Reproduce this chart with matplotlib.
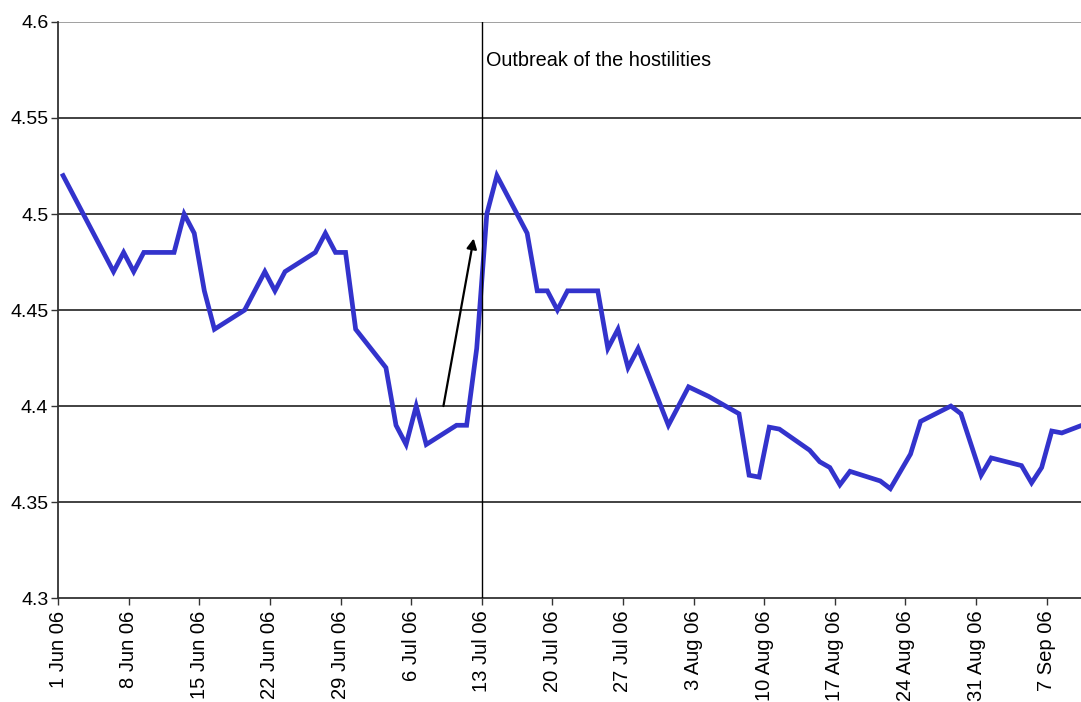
import matplotlib
matplotlib.use("Agg")
import matplotlib.pyplot as plt
import matplotlib.dates as mdates
import numpy as np
import datetime as dt

# trading days and yields
dates = ["2006-06-01", "2006-06-06", "2006-06-07", "2006-06-08", "2006-06-09",
         "2006-06-12", "2006-06-13", "2006-06-14", "2006-06-15", "2006-06-16",
         "2006-06-19", "2006-06-21", "2006-06-22", "2006-06-23", "2006-06-26",
         "2006-06-27", "2006-06-28", "2006-06-29", "2006-06-30", "2006-07-03",
         "2006-07-04", "2006-07-05", "2006-07-06", "2006-07-07", "2006-07-10",
         "2006-07-11", "2006-07-12", "2006-07-13", "2006-07-14", "2006-07-17",
         "2006-07-18", "2006-07-19", "2006-07-20", "2006-07-21", "2006-07-24",
         "2006-07-25", "2006-07-26", "2006-07-27", "2006-07-28", "2006-07-31",
         "2006-08-02", "2006-08-04", "2006-08-07", "2006-08-08", "2006-08-09",
         "2006-08-10", "2006-08-11", "2006-08-14", "2006-08-15", "2006-08-16",
         "2006-08-17", "2006-08-18", "2006-08-21", "2006-08-22", "2006-08-24",
         "2006-08-25", "2006-08-28", "2006-08-29", "2006-08-31", "2006-09-01",
         "2006-09-04", "2006-09-05", "2006-09-06", "2006-09-07", "2006-09-08",
         "2006-09-11"]
values = [4.52, 4.47, 4.48, 4.47, 4.48,
          4.48, 4.50, 4.49, 4.46, 4.44,
          4.45, 4.47, 4.46, 4.47, 4.48,
          4.49, 4.48, 4.48, 4.44, 4.42,
          4.39, 4.38, 4.40, 4.38, 4.39,
          4.39, 4.43, 4.50, 4.52, 4.49,
          4.46, 4.46, 4.45, 4.46, 4.46,
          4.43, 4.44, 4.42, 4.43, 4.39,
          4.41, 4.405, 4.396, 4.364, 4.363,
          4.389, 4.388, 4.377, 4.371, 4.368,
          4.359, 4.366, 4.361, 4.357, 4.375,
          4.392, 4.400, 4.396, 4.364, 4.373,
          4.369, 4.360, 4.368, 4.387, 4.386,
          4.392]

tick_dates = ["2006-06-01", "2006-06-08", "2006-06-15", "2006-06-22", "2006-06-29",
              "2006-07-06", "2006-07-13", "2006-07-20", "2006-07-27", "2006-08-03",
              "2006-08-10", "2006-08-17", "2006-08-24", "2006-08-31", "2006-09-07"]
tick_labels = ["1 Jun 06", "8 Jun 06", "15 Jun 06", "22 Jun 06", "29 Jun 06",
               "6 Jul 06", "13 Jul 06", "20 Jul 06", "27 Jul 06", "3 Aug 06",
               "10 Aug 06", "17 Aug 06", "24 Aug 06", "31 Aug 06", "7 Sep 06"]

event_date = "2006-07-13"
event_label = "Outbreak of the hostilities"

plt.rcParams['font.family'] = ['Liberation Sans', 'DejaVu Sans']

to_num = lambda s: mdates.date2num(dt.datetime.strptime(s, "%Y-%m-%d"))
x = np.array([to_num(d) for d in dates]) + 0.5   # Excel puts points mid-day
xt = [to_num(d) for d in tick_dates]
x0 = to_num(tick_dates[0])

fig = plt.figure(figsize=(10.81, 7.02), dpi=100)
ax = fig.add_axes([0.0537, 0.148, 0.9463, 0.8207])

for yv in np.arange(4.35, 4.61, 0.05):
    ax.axhline(yv, color='#333333' if yv < 4.59 else '#999999', lw=1.3, zorder=1)

ax.plot(x, values, color='#3333CC', lw=3.4, solid_joinstyle='miter', zorder=3)

xe = to_num(event_date)
ax.axvline(xe, color='black', lw=1.0, zorder=4)
ax.text(xe + 0.45, 4.58, event_label, fontsize=14.3, va='center', ha='left')
ax.annotate("", xy=(x0 + 41.2, 4.4873), xytext=(x0 + 38.2, 4.40),
            arrowprops=dict(arrowstyle='-|>', color='black', lw=1.6,
                            mutation_scale=15, shrinkA=0, shrinkB=0), zorder=5)

ax.set_xlim(x0, x0 + 101.4)
ax.set_ylim(4.3, 4.6)
ax.set_yticks([4.3, 4.35, 4.4, 4.45, 4.5, 4.55, 4.6])
ax.set_yticklabels(["4.3", "4.35", "4.4", "4.45", "4.5", "4.55", "4.6"], fontsize=14)
ax.set_xticks(xt)
ax.set_xticklabels(tick_labels, rotation=90, va='top', ha='center', fontsize=14.5)
ax.tick_params(axis='both', length=5, width=1, color='#333333')
ax.tick_params(axis='x', pad=4)
ax.tick_params(axis='y', pad=2)

for s in ['top', 'right']:
    ax.spines[s].set_visible(False)
for s in ['left', 'bottom']:
    ax.spines[s].set_color('#333333')
    ax.spines[s].set_linewidth(1.3)

fig.savefig("out.png", dpi=100)
